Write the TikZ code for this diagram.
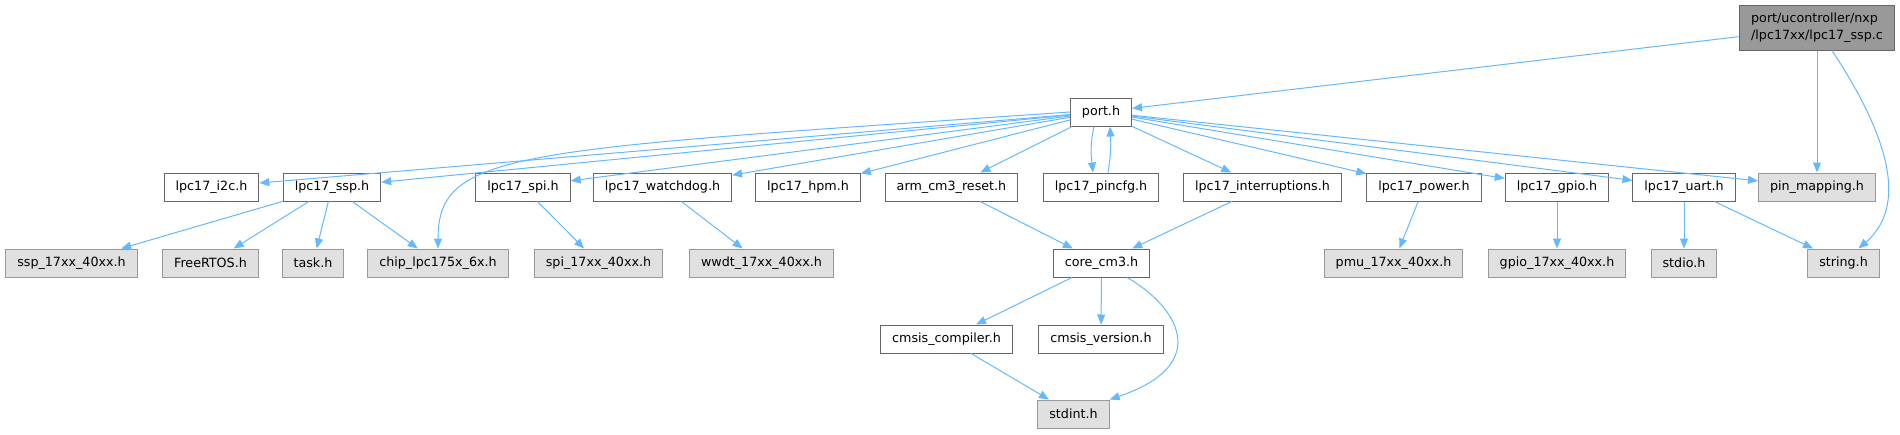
\documentclass[tikz,border=0pt]{standalone}
\usepackage{xcolor}
\usepackage{fontspec}
\usepackage{tikz}
\usetikzlibrary{arrows.meta, positioning}
\newfontfamily\graphfont{DejaVu Sans}
\definecolor{edgeblue}{HTML}{63B8FF}
\definecolor{boxgray}{HTML}{666666}
\definecolor{extborder}{HTML}{999999}
\definecolor{extfill}{HTML}{E0E0E0}
\definecolor{mainfill}{HTML}{999999}

\begin{document}
\begin{tikzpicture}[
    filenode/.style = {rectangle, draw=boxgray, fill=white, line width=1pt, minimum height=28pt, inner xsep=11.5pt, inner ysep=0pt, font=\graphfont\fontsize{12.7}{17}\selectfont},
    extnode/.style = {filenode, draw=extborder, fill=extfill},
    mainnode/.style = {filenode, fill=mainfill, minimum height=45pt, inner xsep=12pt, align=left},
    link/.style = {-{Triangle[length=10pt, width=8pt]}, draw=edgeblue, line width=1pt},
    x=1pt, y=-1pt
]
\useasboundingbox (0,0) rectangle (1900,434);

\node [mainnode] (src) at (1817, 27.5) {port/ucontroller/nxp\\/lpc17xx/lpc17\_ssp.c};

\node [filenode] (port) at (1101, 112) {port.h};

\node [filenode] (i2c)    at (211.5, 187) {lpc17\_i2c.h};
\node [filenode] (ssp)    at (332, 187)   {lpc17\_ssp.h};
\node [filenode] (spi)    at (523, 187)   {lpc17\_spi.h};
\node [filenode] (wdog)   at (662.5, 187) {lpc17\_watchdog.h};
\node [filenode] (hpm)    at (808, 187)   {lpc17\_hpm.h};
\node [filenode] (reset)  at (951.5, 187) {arm\_cm3\_reset.h};
\node [filenode] (pincfg) at (1101, 187)  {lpc17\_pincfg.h};
\node [filenode] (irq)    at (1262.5, 187) {lpc17\_interruptions.h};
\node [filenode] (power)  at (1424, 187)  {lpc17\_power.h};
\node [filenode] (gpio)   at (1557, 187)  {lpc17\_gpio.h};
\node [filenode] (uart)   at (1684, 187)  {lpc17\_uart.h};
\node [extnode]  (pinmap) at (1817, 187)  {pin\_mapping.h};

\node [extnode]  (sspx)  at (71.5, 263)   {ssp\_17xx\_40xx.h};
\node [extnode]  (rtos)  at (210.5, 263)  {FreeRTOS.h};
\node [extnode]  (task)  at (313, 263)    {task.h};
\node [extnode]  (chip)  at (438, 263)    {chip\_lpc175x\_6x.h};
\node [extnode]  (spix)  at (598.5, 263)  {spi\_17xx\_40xx.h};
\node [extnode]  (wwdt)  at (761.5, 263)  {wwdt\_17xx\_40xx.h};
\node [filenode] (core)  at (1101.5, 263) {core\_cm3.h};
\node [extnode]  (pmu)   at (1393.5, 263) {pmu\_17xx\_40xx.h};
\node [extnode]  (gpiox) at (1557, 263)   {gpio\_17xx\_40xx.h};
\node [extnode]  (stdio) at (1684, 263)   {stdio.h};
\node [extnode]  (str)   at (1843.5, 263) {string.h};

\node [filenode] (cc) at (946.5, 339) {cmsis\_compiler.h};
\node [filenode] (cv) at (1101, 339)  {cmsis\_version.h};

\node [extnode] (stdint) at (1073.5, 414) {stdint.h};

% source file
\draw[link] (src) -- (port);
\draw[link] (src) -- (pinmap);
\draw[link] ([xshift=15pt]src.south) .. controls +(43,65) and +(57,-49) .. ([xshift=15pt]str.north);

% port.h
\draw[link] (port) -- (i2c);
\draw[link] (port) -- (ssp);
\draw[link] (port.west) .. controls +(-551,38) and +(0,-99) .. (chip.north);
\draw[link] (port) -- (spi);
\draw[link] (port) -- (wdog);
\draw[link] (port) -- (hpm);
\draw[link] (port) -- (reset);
\draw[link] ([xshift=-7pt]port.south) .. controls +(-4,18) and +(-2,-18) .. ([xshift=-8pt]pincfg.north);
\draw[link] ([xshift=7pt]pincfg.north) .. controls +(3,-18) and +(1,18) .. ([xshift=9pt]port.south);
\draw[link] (port) -- (irq);
\draw[link] (port) -- (power);
\draw[link] (port) -- (gpio);
\draw[link] (port) -- (uart);
\draw[link] (port) -- (pinmap);

% second level
\draw[link] (ssp) -- (sspx);
\draw[link] (ssp) -- (rtos);
\draw[link] (ssp) -- (task);
\draw[link] (ssp) -- (chip);
\draw[link] (spi) -- (spix);
\draw[link] (wdog) -- (wwdt);
\draw[link] (reset) -- (core);
\draw[link] (irq) -- (core);
\draw[link] (power) -- (pmu);
\draw[link] (gpio) -- (gpiox);
\draw[link] (uart) -- (stdio);
\draw[link] (uart) -- (str);

% core_cm3.h
\draw[link] (core) -- (cc);
\draw[link] (core) -- (cv);
\draw[link] ([xshift=25.5pt]core.south) .. controls +(48,27) and +(106,-36) .. (stdint.north east);
\draw[link] (cc) -- (stdint);

\end{tikzpicture}
\end{document}
